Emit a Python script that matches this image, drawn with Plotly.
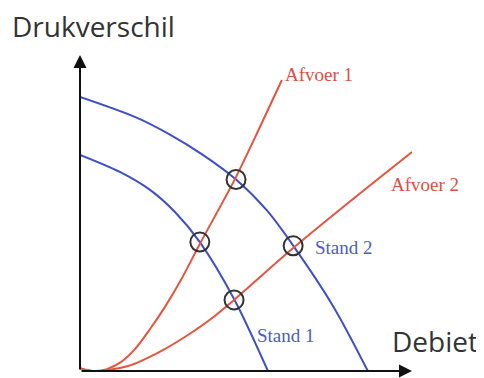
import plotly.graph_objects as go

# Pompkarakteristiek bij twee standen (Q = debiet, H = drukverschil, willekeurige eenheden 0..100)
stand2_q = [0, 17.2, 27.1, 37.0, 47.0, 56.3, 64.2, 76.2, 86.7]
stand2_h = [86.7, 80.1, 74.8, 68.4, 60.6, 50.8, 39.7, 20.6, 0]

stand1_q = [0, 12.0, 21.1, 28.6, 36.1, 46.4, 56.6]
stand1_h = [68.4, 63.0, 57.3, 50.3, 40.8, 22.8, 0]

# Leidingkarakteristiek (afvoer)
afvoer1_q = [0, 3.9, 8.1, 12.3, 16.6, 21.1, 25.6, 30.4, 36.4, 46.7, 54.2, 60.8]
afvoer1_h = [0.9, 0, 0.6, 2.8, 7.0, 13.3, 20.3, 28.8, 40.8, 60.8, 77.2, 92.1]

afvoer2_q = [0, 3.9, 14.5, 24.4, 32.5, 38.6, 46.4, 64.2, 82.2, 100.0]
afvoer2_h = [0.9, 0, 1.6, 6.3, 11.4, 15.8, 22.5, 38.9, 54.4, 69.3]

# Werkpunten (snijpunten)
werkpunt_q = [47.0, 36.1, 64.2, 46.4]
werkpunt_h = [60.6, 40.8, 39.6, 22.5]

BLUE = "#3f4fc8"
RED = "#e5553e"
RED_TXT = "#d8503f"
BLUE_TXT = "#4d5cc0"

fig = go.Figure()
for q, h, c in [(stand2_q, stand2_h, BLUE), (stand1_q, stand1_h, BLUE),
                (afvoer1_q, afvoer1_h, RED), (afvoer2_q, afvoer2_h, RED)]:
    fig.add_trace(go.Scatter(x=q, y=h, mode="lines", line=dict(color=c, width=2, shape="spline", smoothing=0.9),
                             cliponaxis=False, hoverinfo="skip"))

fig.add_trace(go.Scatter(x=werkpunt_q, y=werkpunt_h, mode="markers",
                         marker=dict(symbol="circle-open", size=19, color="#333333", line=dict(width=2)),
                         cliponaxis=False, hoverinfo="skip"))

# assen met pijlen
fig.add_annotation(x=0, y=100, ax=0, ay=0, xref="x", yref="y", axref="x", ayref="y", text="",
                   showarrow=True, arrowhead=2, arrowsize=1.3, arrowwidth=2, arrowcolor="#111111")
fig.add_annotation(x=100, y=0, ax=0, ay=0, xref="x", yref="y", axref="x", ayref="y", text="",
                   showarrow=True, arrowhead=2, arrowsize=1.3, arrowwidth=2, arrowcolor="#111111")

serif = "Liberation Serif, Times New Roman, serif"
sans = "Open Sans, sans-serif"
labels = [
    ("Afvoer 1", 61.1, 93.7, RED_TXT, serif, 19),
    ("Afvoer 2", 93.1, 58.9, RED_TXT, serif, 19),
    ("Stand 2", 70.2, 39.2, BLUE_TXT, serif, 19),
    ("Stand 1", 52.7, 11.1, BLUE_TXT, serif, 19),
    ("Debiet", 93.4, 9.5, "#333333", sans, 28),
]
for t, x, y, c, f, s in labels:
    fig.add_annotation(x=x, y=y, text=t, showarrow=False, xanchor="left", yanchor="middle",
                       font=dict(family=f, size=s, color=c))

# as-titel boven de y-as (buiten het plotgebied, dus paper-coordinaten)
fig.add_annotation(x=-0.211, y=1.093, xref="paper", yref="paper", text="Drukverschil", showarrow=False,
                   xanchor="left", yanchor="middle", font=dict(family=sans, size=28, color="#333333"))

# pagina heeft 8px body-marge, daarom iets kleiner en verschoven
fig.update_layout(
    width=476, height=370,
    margin=dict(l=72, r=72, t=47, b=7),
    paper_bgcolor="white", plot_bgcolor="white",
    showlegend=False,
    xaxis=dict(range=[0, 100], visible=False, fixedrange=True),
    yaxis=dict(range=[0, 100], visible=False, fixedrange=True),
)

fig.write_html("out.html")
